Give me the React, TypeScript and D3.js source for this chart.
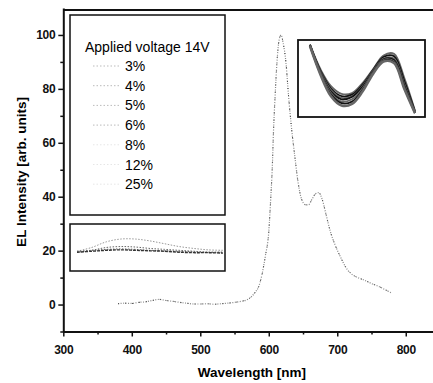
import React, { useRef, useEffect } from 'react';
import * as d3 from 'd3';

// main EL spectrum (wavelength in nm, intensity in arb. units)
const wavelengths = [380, 390, 400, 410, 420, 430, 440, 450, 460, 470, 480, 490, 500, 510, 520, 530, 540, 550, 560, 570, 575, 580, 585, 590, 595, 600, 603, 605, 607, 609, 612, 615, 618, 621, 625, 629, 633, 638, 643, 648, 654, 658, 663, 668, 673, 678, 684, 690, 697, 705, 712, 720, 730, 740, 750, 760, 770, 780];
const intensity = [0.3, 0.5, 0.4, 0.8, 1.0, 1.5, 1.9, 1.5, 1.2, 0.8, 0.5, 0.2, 0.2, 0.3, 0.1, 0.3, 0.5, 0.8, 1.2, 2, 3, 4.5, 6.5, 11, 18, 27, 40, 50, 65, 76, 90, 98, 100, 97, 90, 77, 66, 55, 45, 39, 37, 37, 39, 41, 41.5, 39, 33, 27, 22, 17.5, 14, 11.5, 10, 9, 7.8, 6.8, 5.5, 4.2];

// legend
const legendTitle = 'Applied voltage 14V';
const concentrations = ['3%', '4%', '5%', '6%', '8%', '12%', '25%'];

// axes
const xTicks = [300, 400, 500, 600, 700, 800];
const yTicks = [0, 20, 40, 60, 80, 100];

// upper inset: zoom of the shoulder region, one curve per concentration
const insetTopX = [0, 10, 20, 30, 40, 50, 60, 70, 80, 90, 100];
const insetTopSeries = [
  [94, 62, 40, 30, 31, 44, 62, 80, 82, 50, 8],
  [93, 60, 37, 27, 29, 42, 61, 78, 79, 46, 7],
  [93, 59, 35, 25, 27, 40, 60, 76, 76, 42, 6],
  [94, 58, 33, 23, 26, 39, 59, 75, 74, 40, 6],
  [93, 57, 31, 20, 23, 37, 58, 74, 72, 38, 6],
  [92, 56, 29, 18, 20, 35, 57, 73, 71, 37, 5],
  [92, 55, 27, 15, 17, 33, 56, 72, 70, 36, 5],
];

// lower inset: zoom of the blue region
const insetBotX = [0, 10, 20, 30, 40, 50, 60, 70, 80, 90, 100];
const insetBotSeries = [
  [42, 50, 62, 68, 68, 64, 58, 52, 48, 45, 44],
  [40, 44, 50, 52, 51, 48, 46, 44, 42, 40, 40],
  [42, 44, 46, 47, 46, 44, 43, 42, 41, 40, 40],
  [40, 42, 44, 45, 44, 43, 42, 40, 39, 39, 38],
];

function App() {
  const svgRef = useRef<SVGSVGElement>(null);

  useEffect(() => {
    const svg = d3.select(svgRef.current);
    svg.selectAll('*').remove();

    const left = 63.3;
    const top = 8;
    const bottom = 331.5;
    const right = 440;

    const x = d3.scaleLinear().domain([300, 850]).range([left, right]);
    const y = d3.scaleLinear().domain([-10, 110]).range([bottom, top]);

    const font = 'Arial, "Liberation Sans", sans-serif';

    // frame top line
    svg.append('line')
      .attr('x1', left).attr('x2', 433)
      .attr('y1', 10).attr('y2', 10)
      .attr('stroke', '#111').attr('stroke-width', 2);

    // x axis
    const xAxis = svg.append('g').attr('transform', `translate(0,${bottom})`);
    xAxis.call(d3.axisBottom(x).tickValues(xTicks).tickSize(5).tickSizeOuter(0).tickFormat(d3.format('d')));
    xAxis.append('g').call(d3.axisBottom(x).tickValues(d3.range(350, 850, 100)).tickSize(3).tickFormat(() => ''))
      .select('.domain').remove();
    xAxis.selectAll('.domain').attr('stroke', '#111').attr('stroke-width', 2);
    xAxis.selectAll('line').attr('stroke', '#111').attr('stroke-width', 1.5);
    xAxis.selectAll('text')
      .attr('font-family', font).attr('font-size', 12).attr('font-weight', 'bold')
      .attr('fill', '#111').attr('dy', '1.2em').attr('letter-spacing', -0.3);

    // y axis
    const yAxis = svg.append('g').attr('transform', `translate(${left},0)`);
    yAxis.call(d3.axisLeft(y).tickValues(yTicks).tickSize(5).tickSizeOuter(0));
    yAxis.append('g').call(d3.axisLeft(y).tickValues(d3.range(-10, 110, 20)).tickSize(3).tickFormat(() => ''))
      .select('.domain').remove();
    yAxis.selectAll('.domain').attr('stroke', '#111').attr('stroke-width', 2);
    yAxis.selectAll('line').attr('stroke', '#111').attr('stroke-width', 1.5);
    yAxis.selectAll('text')
      .attr('font-family', font).attr('font-size', 12).attr('font-weight', 'bold')
      .attr('fill', '#111').attr('letter-spacing', -0.3);

    // axis titles
    svg.append('text')
      .attr('x', 252).attr('y', 377)
      .attr('text-anchor', 'middle')
      .attr('font-family', font).attr('font-size', 13.5).attr('font-weight', 'bold')
      .text('Wavelength [nm]');
    svg.append('text')
      .attr('transform', 'translate(26,172) rotate(-90)')
      .attr('text-anchor', 'middle')
      .attr('font-family', font).attr('font-size', 13.5).attr('font-weight', 'bold')
      .text('EL Intensity [arb. units]');

    // main spectrum
    const line = d3.line<number>()
      .x((_, i) => x(wavelengths[i]))
      .y(d => y(d))
      .curve(d3.curveMonotoneX);
    svg.append('path')
      .attr('d', line(intensity))
      .attr('fill', 'none')
      .attr('stroke', '#888')
      .attr('stroke-width', 1.2)
      .attr('stroke-dasharray', '1 1.5');
    svg.append('path')
      .attr('d', line(intensity))
      .attr('fill', 'none')
      .attr('stroke', '#444')
      .attr('stroke-width', 1)
      .attr('stroke-dasharray', '1 6');

    // legend box
    svg.append('rect')
      .attr('x', 70).attr('y', 15).attr('width', 155).attr('height', 200)
      .attr('fill', 'none').attr('stroke', '#111').attr('stroke-width', 1.5);
    svg.append('text')
      .attr('x', 85).attr('y', 52)
      .attr('font-family', font).attr('font-size', 14)
      .text(legendTitle);
    const legendStep = 19.7;
    concentrations.forEach((c, i) => {
      const cy = 66 + i * legendStep;
      svg.append('line')
        .attr('x1', 93).attr('x2', 121).attr('y1', cy).attr('y2', cy)
        .attr('stroke', i < 4 ? '#bbb' : '#e6e6e6').attr('stroke-width', 1)
        .attr('stroke-dasharray', '1.5 2');
      svg.append('text')
        .attr('x', 125).attr('y', cy + 5)
        .attr('font-family', font).attr('font-size', 14)
        .text(c);
    });

    // upper inset
    const ix = d3.scaleLinear().domain([0, 100]).range([310, 415]);
    const iy = d3.scaleLinear().domain([0, 100]).range([117, 40]);
    svg.append('rect')
      .attr('x', 298).attr('y', 40).attr('width', 127).attr('height', 77)
      .attr('fill', '#fff').attr('stroke', '#111').attr('stroke-width', 1.8);
    const topLine = d3.line<number>()
      .x((_, i) => ix(insetTopX[i]))
      .y(d => iy(d))
      .curve(d3.curveCatmullRom);
    insetTopSeries.forEach((s, i) => {
      svg.append('path')
        .attr('d', topLine(s))
        .attr('fill', 'none')
        .attr('stroke', i % 2 ? '#111' : '#666')
        .attr('stroke-width', i === insetTopSeries.length - 1 ? 2.6 : 1.8);
    });

    // lower inset
    const bx = d3.scaleLinear().domain([0, 100]).range([77, 223]);
    const by = d3.scaleLinear().domain([0, 100]).range([271, 224]);
    svg.append('rect')
      .attr('x', 70).attr('y', 224).attr('width', 155).attr('height', 47)
      .attr('fill', '#fff').attr('stroke', '#111').attr('stroke-width', 1.5);
    const botLine = d3.line<number>()
      .x((_, i) => bx(insetBotX[i]))
      .y(d => by(d))
      .curve(d3.curveCatmullRom);
    insetBotSeries.forEach((s, i) => {
      svg.append('path')
        .attr('d', botLine(s))
        .attr('fill', 'none')
        .attr('stroke', i === 0 ? '#999' : i === 3 ? '#333' : '#666')
        .attr('stroke-width', i === 3 ? 1.4 : 1)
        .attr('stroke-dasharray', i === 3 ? '3 1' : '1.5 1.5');
    });
  }, []);

  return (
    <svg
      ref={svgRef}
      width={433}
      height={383}
      style={{ position: 'absolute', left: 0, top: 0, background: '#fff' }}
    ></svg>
  );
}

export default App;
